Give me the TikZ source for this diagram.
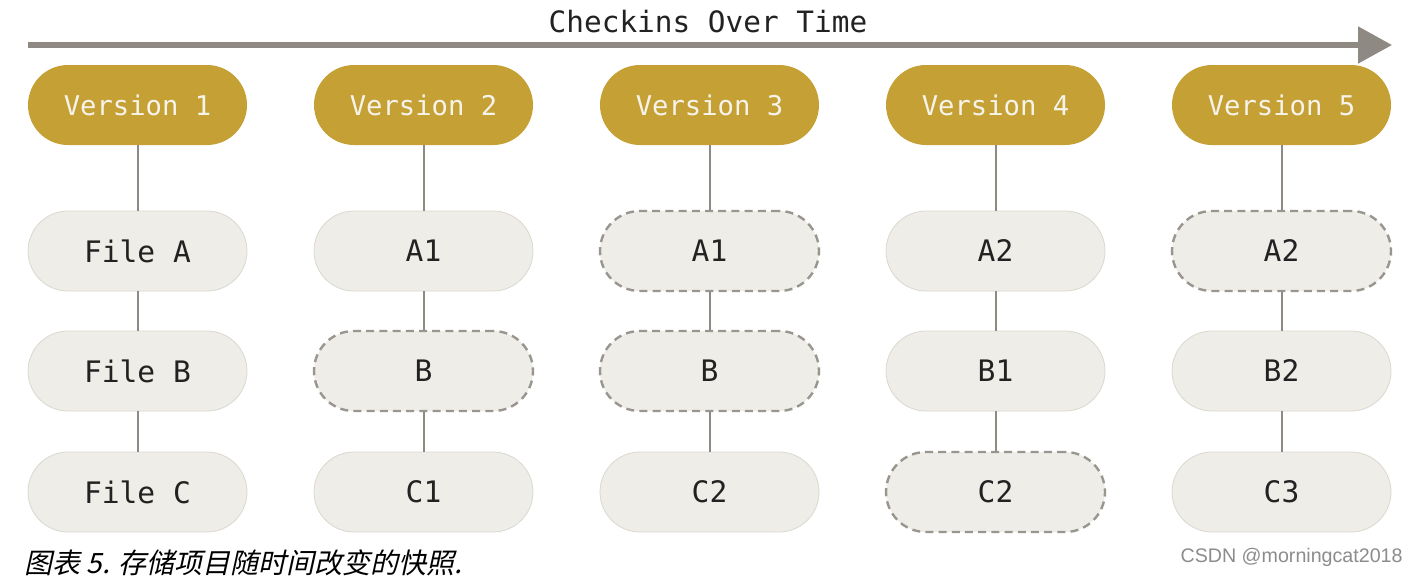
\documentclass[tikz,border=0pt]{standalone}
\usepackage{fontspec}
\setmonofont{DejaVu Sans Mono}
\newfontfamily\cjk[FakeSlant=0.22]{Noto Sans CJK SC}
\newfontfamily\wmfont{Liberation Sans}
\usetikzlibrary{arrows.meta}
\definecolor{gold}{HTML}{C5A035}
\definecolor{pale}{HTML}{EEEDE7}
\definecolor{paleedge}{HTML}{DAD8D0}
\definecolor{linegray}{HTML}{8E8A83}
\definecolor{vtext}{HTML}{F6F3EA}
\definecolor{btext}{HTML}{222222}
\tikzset{
  vbox/.style={fill=gold, rounded corners=20pt, minimum width=109.5pt, minimum height=40pt,
    text=vtext, font=\ttfamily\fontsize{13.6}{14}\selectfont, inner sep=0pt},
  fbox/.style={fill=pale, draw=paleedge, line width=0.4pt, rounded corners=20pt, minimum width=109.5pt, minimum height=40pt,
    text=btext, font=\ttfamily\fontsize{14.8}{16}\selectfont, inner sep=0pt},
  dbox/.style={fbox, draw=linegray!90, line width=1.2pt, dash pattern=on 4pt off 2.6pt},
  link/.style={draw=linegray, line width=1pt},
}
\begin{document}
\begin{tikzpicture}[x=0.5pt,y=-0.5pt]
\useasboundingbox[fill=white] (0,0) rectangle (1418,578);
\coordinate (as) at (28,45);
\coordinate (ae) at (1392,45);
\draw[draw=linegray, line width=2.6pt, -{Triangle[length=17pt,width=18pt]}] (as) -- (ae);
\node[font=\ttfamily\fontsize{14.7}{16}\selectfont, text=btext] (title) at (708,22) {Checkins Over Time};

% columns
\node[vbox] (v1) at (137.5,105) {Version 1};
\node[vbox] (v2) at (423.5,105) {Version 2};
\node[vbox] (v3) at (709.5,105) {Version 3};
\node[vbox] (v4) at (995.5,105) {Version 4};
\node[vbox] (v5) at (1281.5,105) {Version 5};

\node[fbox] (a1) at (137.5,251) {File A};
\node[fbox] (b1) at (137.5,371) {File B};
\node[fbox] (c1) at (137.5,492) {File C};

\node[fbox] (a2) at (423.5,251) {A1};
\node[dbox] (b2) at (423.5,371) {B};
\node[fbox] (c2) at (423.5,492) {C1};

\node[dbox] (a3) at (709.5,251) {A1};
\node[dbox] (b3) at (709.5,371) {B};
\node[fbox] (c3) at (709.5,492) {C2};

\node[fbox] (a4) at (995.5,251) {A2};
\node[fbox] (b4) at (995.5,371) {B1};
\node[dbox] (c4) at (995.5,492) {C2};

\node[dbox] (a5) at (1281.5,251) {A2};
\node[fbox] (b5) at (1281.5,371) {B2};
\node[fbox] (c5) at (1281.5,492) {C3};

\foreach \i in {1,...,5}{
  \draw[link] (v\i.south) -- (a\i.north);
  \draw[link] (a\i.south) -- (b\i.north);
  \draw[link] (b\i.south) -- (c\i.north);
}

\node[anchor=west, inner sep=0pt, text=black, font=\cjk\fontsize{14}{15}\selectfont] (cap) at (24,563) {图表 5. 存储项目随时间改变的快照.};
\node[anchor=east, inner sep=0pt, text=black!45, font=\wmfont\fontsize{10}{11}\selectfont] (wm) at (1403,557) {\resizebox{111pt}{!}{CSDN @morningcat2018}};
\end{tikzpicture}
\end{document}
